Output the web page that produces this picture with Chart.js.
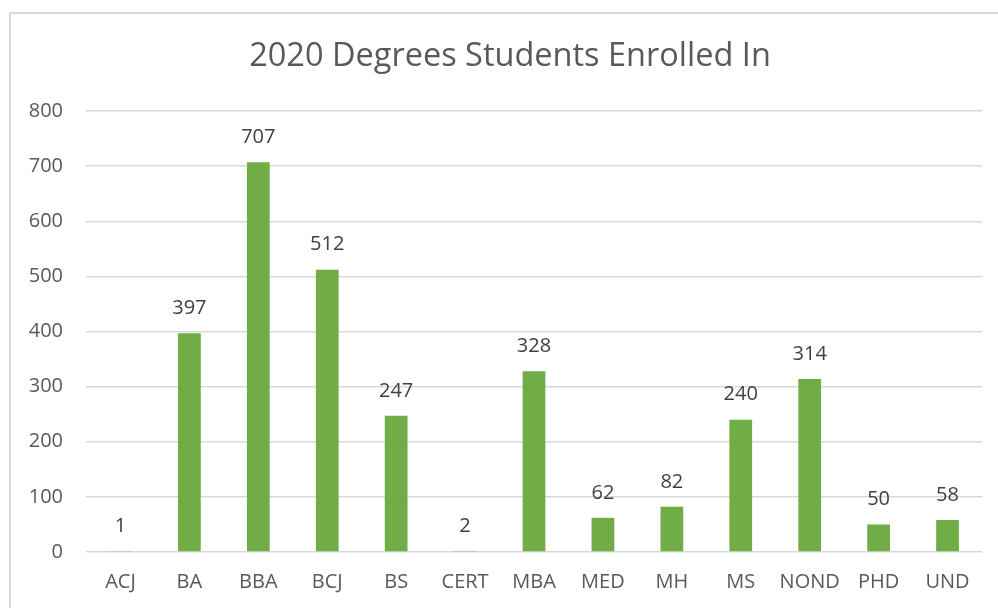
<!DOCTYPE html>
<html>
<head>
<meta charset="utf-8">
<script src="https://cdn.jsdelivr.net/npm/chart.js@4"></script>
<style>
  html, body { margin: 0; padding: 0; background: #fff; }
  #wrap { width: 998px; height: 608px; position: relative; }
</style>
</head>
<body>
<div id="wrap"><canvas id="degreesChart" width="998" height="608"></canvas></div>
<script>
// Data
const degrees = ['ACJ', 'BA', 'BBA', 'BCJ', 'BS', 'CERT', 'MBA', 'MED', 'MH', 'MS', 'NOND', 'PHD', 'UND'];
const enrolled = [1, 397, 707, 512, 247, 2, 328, 62, 82, 240, 314, 50, 58];
const yTicks = [0, 100, 200, 300, 400, 500, 600, 700, 800];
const chartTitle = '2020 Degrees Students Enrolled In';

const FONT = "'Open Sans', 'Noto Sans', sans-serif";
const GREY = '#595959';

// outer frame (only left/top edges visible in the original) + title
const framePlugin = {
  id: 'frame',
  beforeDraw(chart) {
    const c = chart.ctx;
    c.save();
    c.strokeStyle = '#d9d9d9';
    c.lineWidth = 2;
    c.beginPath();
    c.moveTo(10, 608);
    c.lineTo(10, 13);
    c.lineTo(998, 13);
    c.stroke();
    c.font = '32.5px ' + FONT;
    c.fillStyle = GREY;
    c.textAlign = 'center';
    c.textBaseline = 'middle';
    c.fillText(chartTitle, 510, 57);
    c.restore();
  }
};

// value labels above bars
const valueLabels = {
  id: 'valueLabels',
  afterDatasetsDraw(chart) {
    const c = chart.ctx;
    const meta = chart.getDatasetMeta(0);
    c.save();
    c.font = '20px ' + FONT;
    c.fillStyle = '#404040';
    c.textAlign = 'center';
    c.textBaseline = 'middle';
    meta.data.forEach((bar, i) => {
      c.fillText(enrolled[i], bar.x, bar.y - 25);
    });
    c.restore();
  }
};

const ctx = document.getElementById('degreesChart').getContext('2d');
const degreesChart = new Chart(ctx, {
  type: 'bar',
  data: {
    labels: degrees,
    datasets: [{
      label: 'Students',
      data: enrolled,
      backgroundColor: '#70ad47',
      barPercentage: 0.66,
      categoryPercentage: 0.5
    }]
  },
  options: {
    responsive: false,
    animation: false,
    layout: { padding: { top: 111, right: 16, left: 0, bottom: 0 } },
    plugins: {
      legend: { display: false },
      tooltip: { enabled: false },
      title: { display: false }
    },
    scales: {
      y: {
        min: 0,
        max: 800,
        afterFit(scale) { scale.width = 86; },
        afterBuildTicks(scale) { scale.ticks = yTicks.map(v => ({ value: v })); },
        border: { display: false },
        grid: { color: '#d9d9d9', lineWidth: 1.5, drawTicks: false },
        ticks: { color: GREY, padding: 23, font: { family: FONT, size: 20 } }
      },
      x: {
        afterFit(scale) { scale.height = 56; },
        border: { display: false },
        grid: { display: false, drawTicks: false },
        ticks: { color: GREY, padding: 18, font: { family: FONT, size: 20 } }
      }
    }
  },
  plugins: [framePlugin, valueLabels]
});
</script>
</body>
</html>
